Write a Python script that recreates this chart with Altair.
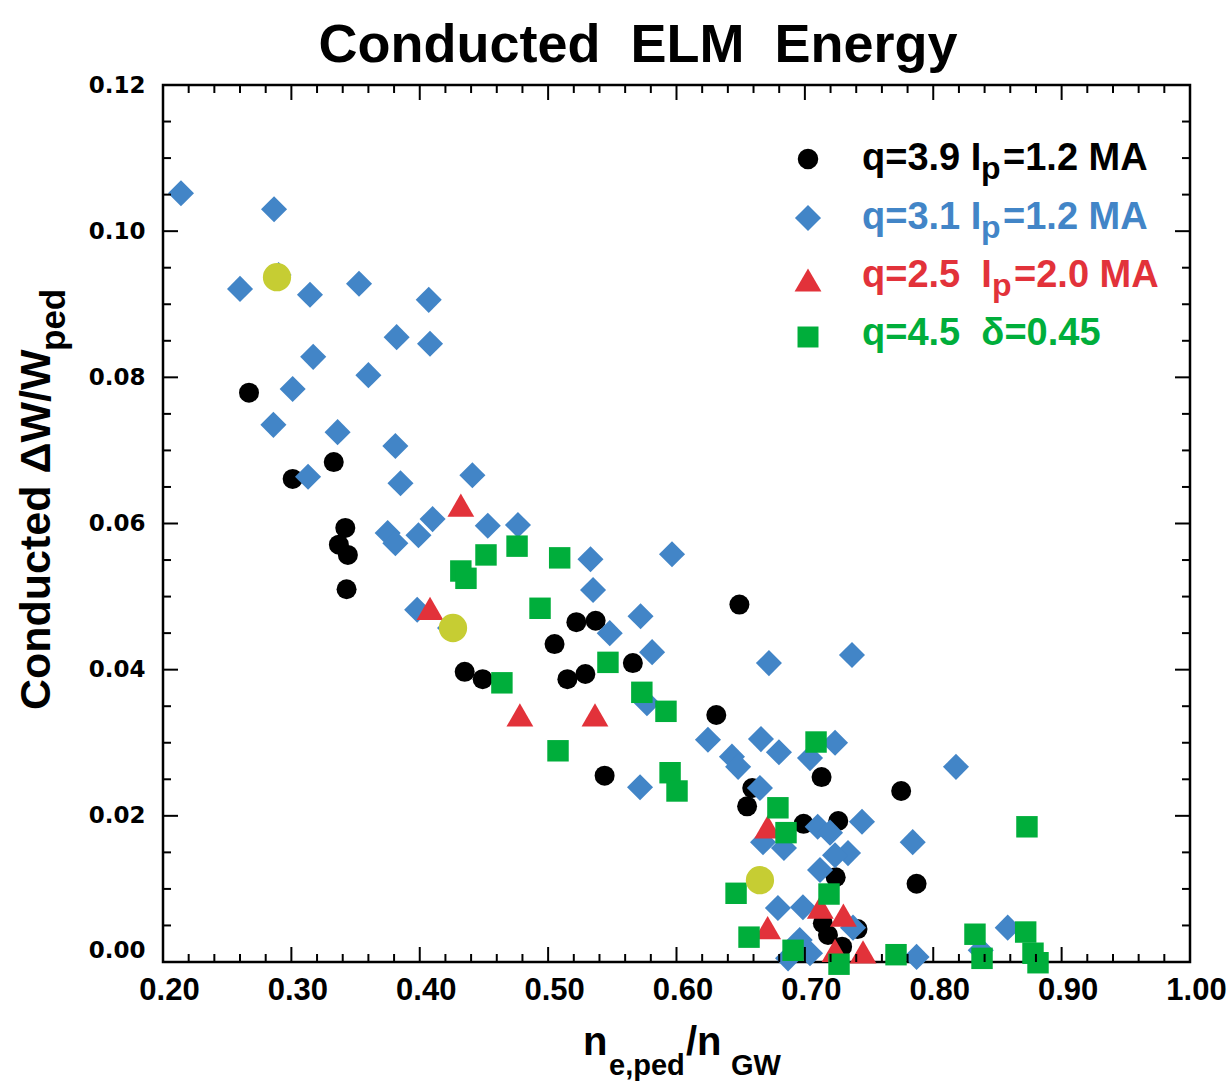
import altair as alt
import pandas as pd

# ---------------- data ----------------
Q39_X = [0.267, 0.301, 0.333, 0.342, 0.337, 0.344, 0.343, 0.435, 0.449, 0.505,
         0.522, 0.537, 0.515, 0.529, 0.566, 0.544, 0.631, 0.649, 0.659, 0.655,
         0.699, 0.726, 0.713, 0.775, 0.724, 0.787, 0.714, 0.718, 0.741, 0.729]
Q39_Y = [0.0779, 0.0661, 0.0684, 0.0594, 0.0571, 0.0557, 0.0510, 0.0397, 0.0387, 0.0435,
         0.0465, 0.0467, 0.0387, 0.0394, 0.0409, 0.0255, 0.0338, 0.0489, 0.0238, 0.0213,
         0.0189, 0.0193, 0.0253, 0.0234, 0.0116, 0.0107, 0.0053, 0.0037, 0.0045, 0.0021]

Q31_X = [0.214, 0.2865, 0.290, 0.260, 0.3145, 0.3527, 0.407, 0.382, 0.408, 0.317,
         0.360, 0.301, 0.286, 0.336, 0.381, 0.313, 0.385, 0.441, 0.410, 0.375,
         0.381, 0.399, 0.453, 0.4765, 0.398, 0.4236, 0.533, 0.5965, 0.535, 0.572,
         0.548, 0.581, 0.577, 0.6245, 0.672, 0.7367, 0.6658, 0.6798, 0.6432, 0.648,
         0.704, 0.7235, 0.5716, 0.665, 0.710, 0.7196, 0.7445, 0.784, 0.6674, 0.6837,
         0.7336, 0.7235, 0.7118, 0.665, 0.679, 0.6985, 0.7375, 0.696, 0.704, 0.6869,
         0.787, 0.8177, 0.858, 0.837]
Q31_Y = [0.1052, 0.1030, 0.0940, 0.0921, 0.0913, 0.0928, 0.0906, 0.0855, 0.0846, 0.0828,
         0.0803, 0.0784, 0.0735, 0.0725, 0.0706, 0.0664, 0.0655, 0.0666, 0.0606, 0.0587,
         0.0573, 0.0584, 0.0597, 0.0598, 0.0482, 0.0457, 0.0551, 0.0558, 0.0509, 0.0473,
         0.0450, 0.0424, 0.0354, 0.0304, 0.0409, 0.0420, 0.0305, 0.0287, 0.0281, 0.0267,
         0.0279, 0.0300, 0.0239, 0.0238, 0.0185, 0.0177, 0.0192, 0.0164, 0.0164, 0.0156,
         0.0149, 0.0146, 0.0126, 0.0112, 0.0074, 0.0075, 0.0047, 0.0030, 0.0012, 0.0005,
         0.0007, 0.0267, 0.0047, 0.0016]

Q25_X = [0.432, 0.408, 0.478, 0.5365, 0.671, 0.671, 0.712, 0.730, 0.7235, 0.7453]
Q25_Y = [0.0625, 0.0484, 0.0338, 0.0338, 0.0185, 0.0047, 0.0075, 0.0064, 0.0016, 0.0014]

Q45_X = [0.432, 0.436, 0.4516, 0.4758, 0.509, 0.4937, 0.464, 0.5466, 0.573, 0.5918,
         0.5077, 0.595, 0.6004, 0.679, 0.6853, 0.7087, 0.6464, 0.6565, 0.6908, 0.7266,
         0.771, 0.7188, 0.873, 0.8325, 0.838, 0.872, 0.8777, 0.8816]
Q45_Y = [0.0535, 0.0525, 0.0557, 0.0569, 0.0553, 0.0484, 0.0382, 0.0410, 0.0369, 0.0343,
         0.0289, 0.0259, 0.0234, 0.0211, 0.0177, 0.0301, 0.0094, 0.0034, 0.0016, -0.0003,
         0.0010, 0.0093, 0.0185, 0.0038, 0.0005, 0.0041, 0.0012, -0.0001]

HIGHLIGHT_X = [0.2888, 0.4259, 0.665]
HIGHLIGHT_Y = [0.0937, 0.0457, 0.0112]

X_MAJOR = [0.2, 0.3, 0.4, 0.5, 0.6, 0.7, 0.8, 0.9, 1.0]
X_MINOR = [0.22, 0.24, 0.26, 0.28, 0.32, 0.34, 0.36, 0.38, 0.42, 0.44, 0.46, 0.48,
           0.52, 0.54, 0.56, 0.58, 0.62, 0.64, 0.66, 0.68, 0.72, 0.74, 0.76, 0.78,
           0.82, 0.84, 0.86, 0.88, 0.92, 0.94, 0.96, 0.98]
Y_MAJOR = [0.0, 0.02, 0.04, 0.06, 0.08, 0.10, 0.12]
Y_MINOR = [0.005, 0.01, 0.015, 0.025, 0.03, 0.035, 0.045, 0.05, 0.055, 0.065, 0.07,
           0.075, 0.085, 0.09, 0.095, 0.105, 0.11, 0.115]

NB = "\u00a0"
TITLE = "Conducted" + NB + NB + "ELM" + NB + NB + "Energy"
X_TITLE = ["n", "e,ped", "/n", "GW"]
Y_TITLE = ["Conducted \u0394W/W", "ped"]
LEG_A = ["q=3.9" + NB + "I", "q=3.1" + NB + "I", "q=2.5" + NB + NB + "I",
         "q=4.5" + NB + NB + "\u03b4=0.45"]
LEG_SUB = ["p", "p", "p", ""]
LEG_B = ["=1.2" + NB + "MA", "=1.2" + NB + "MA", "=2.0" + NB + "MA", ""]

# ---------------- styling ----------------
BLACK = "#000000"
BLUE = "#4285C7"
RED = "#E2323A"
GREEN = "#00AE3B"
YELLOW = "#C6CD33"
SANS = "Liberation Sans, Arial, sans-serif"
W, H = 1027, 877

xsc = alt.Scale(domain=[0.2, 1.0], nice=False, zero=False)
ysc = alt.Scale(domain=[0.0, 0.12], nice=False, zero=False)

XAX = alt.Axis(values=X_MAJOR, format=".2f", title=None, ticks=False, tickSize=0,
               domain=False, grid=False, labelFont=SANS, labelFontSize=31,
               labelFontWeight="bold", labelPadding=13, labelFlush=False,
               labelOverlap=False, labelOffset=6, labelColor="black")
YAX = alt.Axis(values=Y_MAJOR, format=".2f", title=None, ticks=False, tickSize=0,
               domain=False, grid=False, labelFont="DejaVu Sans", labelFontSize=23,
               labelFontWeight="bold", labelPadding=18, labelFlush=False,
               labelOverlap=False, labelColor="black",
               labelBaseline={"condition": {"test": "datum.value === 0", "value": "bottom"},
                              "value": "middle"})


def points(xs, ys, shape, color, size):
    df = pd.DataFrame({"x": xs, "y": ys})
    return alt.Chart(df).mark_point(shape=shape, filled=True, size=size, color=color,
                                    opacity=1, strokeWidth=0).encode(
        x=alt.X("x:Q", scale=xsc, axis=XAX),
        y=alt.Y("y:Q", scale=ysc, axis=YAX),
    )


def xticks(vals, length, top):
    df = pd.DataFrame({"x": vals})
    if top:
        yy = dict(y=alt.value(0), y2=alt.value(length))
    else:
        yy = dict(y=alt.value(H), y2=alt.value(H - length))
    return alt.Chart(df).mark_rule(color="black", strokeWidth=2).encode(
        x=alt.X("x:Q", scale=xsc, axis=XAX), **yy)


def yticks(vals, length, right):
    df = pd.DataFrame({"y": vals})
    if right:
        xx = dict(x=alt.value(W), x2=alt.value(W - length))
    else:
        xx = dict(x=alt.value(0), x2=alt.value(length))
    return alt.Chart(df).mark_rule(color="black", strokeWidth=2).encode(
        y=alt.Y("y:Q", scale=ysc, axis=YAX), **xx)


def label(text, x, y, size, color="black", font=SANS, angle=0, align="left"):
    df = pd.DataFrame({"t": [text]})
    return alt.Chart(df).mark_text(font=font, fontSize=size, fontWeight="bold",
                                   color=color, angle=angle, align=align,
                                   baseline="alphabetic").encode(
        text="t:N", x=alt.value(x), y=alt.value(y))


def legend_symbol(shape, color, size, x, y):
    df = pd.DataFrame({"s": [shape]})
    return alt.Chart(df).mark_point(shape=shape, filled=True, size=size, color=color,
                                    opacity=1, strokeWidth=0).encode(
        x=alt.value(x), y=alt.value(y))


layers = [
    points(Q39_X, Q39_Y, "circle", BLACK, 400),
    points(Q31_X, Q31_Y, "diamond", BLUE, 680),
    points(Q25_X, Q25_Y, "triangle-up", RED, 720),
    points(Q45_X, Q45_Y, "square", GREEN, 460),
    points(HIGHLIGHT_X, HIGHLIGHT_Y, "circle", YELLOW, 800),
    xticks(X_MAJOR, 15, False), xticks(X_MINOR, 8, False),
    xticks(X_MAJOR, 15, True), xticks(X_MINOR, 8, True),
    yticks(Y_MAJOR, 15, False), yticks(Y_MINOR, 8, False),
    yticks(Y_MAJOR, 15, True), yticks(Y_MINOR, 8, True),
]

# legend
leg_colors = [BLACK, BLUE, RED, GREEN]
leg_shapes = [("circle", 420), ("diamond", 680), ("triangle-up", 720), ("square", 440)]
sym_y = [74, 133, 195, 252]
base_y = [85, 144, 202, 260]
sub_x = [818, 818, 829, 0]
b_x = [840, 840, 851, 0]
for i in range(4):
    layers.append(legend_symbol(leg_shapes[i][0], leg_colors[i], leg_shapes[i][1], 645, sym_y[i]))
    layers.append(label(LEG_A[i], 699, base_y[i], 38, leg_colors[i]))
    if LEG_SUB[i]:
        layers.append(label(LEG_SUB[i], sub_x[i], base_y[i] + 9, 32, leg_colors[i]))
        layers.append(label(LEG_B[i], b_x[i], base_y[i], 38, leg_colors[i]))

# titles
layers.append(label(TITLE, 475, -23, 54, align="center"))
layers.append(label(X_TITLE[0], 420, 970, 40))
layers.append(label(X_TITLE[1], 446, 990, 29))
layers.append(label(X_TITLE[2], 523, 970, 40))
layers.append(label(X_TITLE[3], 568, 990, 29))
layers.append(label(Y_TITLE[0], -113, 625, 43, angle=270))
layers.append(label(Y_TITLE[1], -98, 266, 35, angle=270))

chart = alt.layer(*layers).properties(
    width=W, height=H,
    padding={"left": 163, "top": 85, "right": 40, "bottom": 123},
    autosize=alt.AutoSizeParams(type="none"),
).configure_view(stroke="black", strokeWidth=2.5)

chart.save("out.html", embed_options={"renderer": "svg", "actions": False})
